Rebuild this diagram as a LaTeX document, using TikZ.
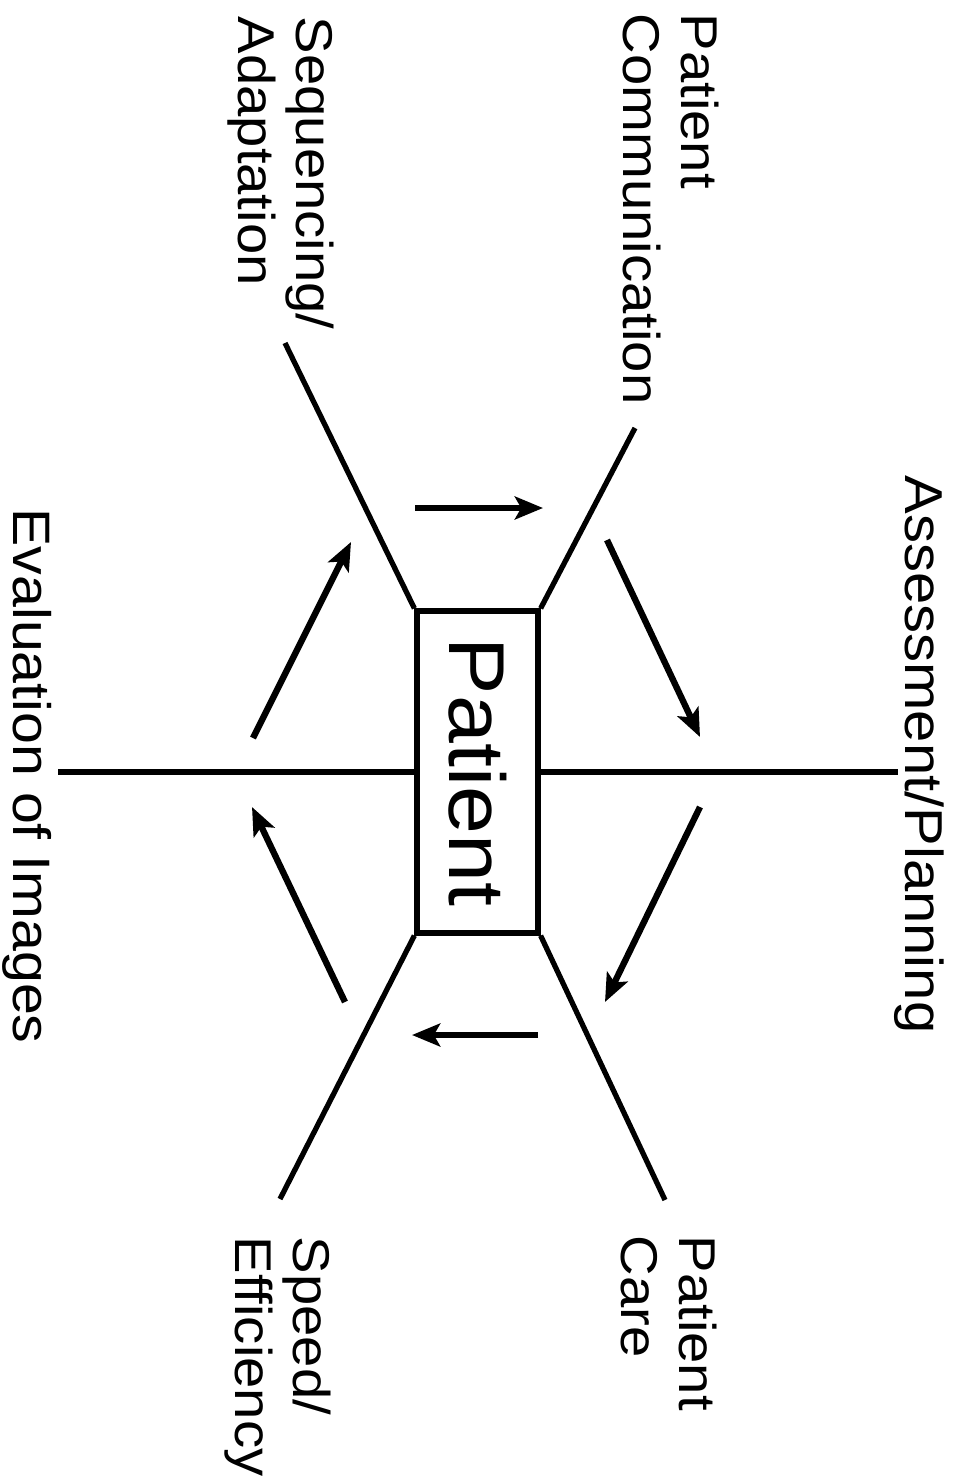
\documentclass[tikz,border=0pt]{standalone}
\usepackage{fontspec}
\setmainfont{Liberation Sans}
\usetikzlibrary{arrows.meta}
\newcommand{\lbltwo}[2]{\scalebox{1}[0.92]{\fontsize{16}{18}\selectfont\begin{tabular}{@{}l@{}}#1\\#2\end{tabular}}}
\newcommand{\lblone}[2]{\scalebox{1}[0.92]{\fontsize{#1}{#1}\selectfont #2}}
\begin{document}
\begin{tikzpicture}[
  conn/.style={line width=1.5pt},
  flow/.style={line width=1.8pt,-{Stealth[length=8pt,width=6.5pt,inset=1.8pt]}},
  lbl/.style={inner sep=0pt,anchor=north west,rotate=-90}
]
\useasboundingbox (0,0) rectangle (9.69,-14.84);
\node[draw,line width=1.5pt,minimum width=1.21cm,minimum height=3.22cm,inner sep=0pt] (box) at (4.775,-7.72)
  {\rotatebox{-90}{\lblone{24.5}{Patient}}};
\coordinate (hl) at (0.58,-7.72);
\coordinate (hr) at (8.98,-7.72);
\coordinate (dne) at (6.35,-4.28);
\coordinate (dnw) at (2.85,-3.43);
\coordinate (dse) at (6.65,-12.0);
\coordinate (dsw) at (2.80,-11.99);
\draw[conn] (hl) -- (box.west);
\draw[conn] (box.east) -- (hr);
\draw[conn] (box.north east) -- (dne);
\draw[conn] (box.north west) -- (dnw);
\draw[conn] (box.south east) -- (dse);
\draw[conn] (box.south west) -- (dsw);
\coordinate (a1s) at (4.15,-5.08);  \coordinate (a1e) at (5.43,-5.08);
\coordinate (a2s) at (6.07,-5.40);  \coordinate (a2e) at (7.00,-7.37);
\coordinate (a3s) at (7.00,-8.07);  \coordinate (a3e) at (6.05,-10.02);
\coordinate (a4s) at (5.38,-10.35); \coordinate (a4e) at (4.12,-10.35);
\coordinate (a5s) at (3.45,-10.02); \coordinate (a5e) at (2.52,-8.07);
\coordinate (a6s) at (2.53,-7.38);  \coordinate (a6e) at (3.51,-5.42);
\draw[flow] (a1s) -- (a1e);
\draw[flow] (a2s) -- (a2e);
\draw[flow] (a3s) -- (a3e);
\draw[flow] (a4s) -- (a4e);
\draw[flow] (a5s) -- (a5e);
\draw[flow] (a6s) -- (a6e);
\node[lbl] (pc) at (7.23,-0.13) {\lbltwo{Patient}{Communication}};
\node[lbl] (sa) at (3.38,-0.16) {\lbltwo{Sequencing/}{Adaptation}};
\node[lbl] (pca) at (7.21,-12.35) {\lbltwo{Patient}{Care}};
\node[lbl] (se) at (3.35,-12.36) {\lbltwo{Speed/}{Efficiency}};
\node[lbl] (ap) at (9.45,-4.75) {\lblone{16.5}{Assessment/Planning}};
\node[lbl] (ev) at (0.52,-5.08) {\lblone{16.3}{Evaluation of Images}};
\end{tikzpicture}
\end{document}
